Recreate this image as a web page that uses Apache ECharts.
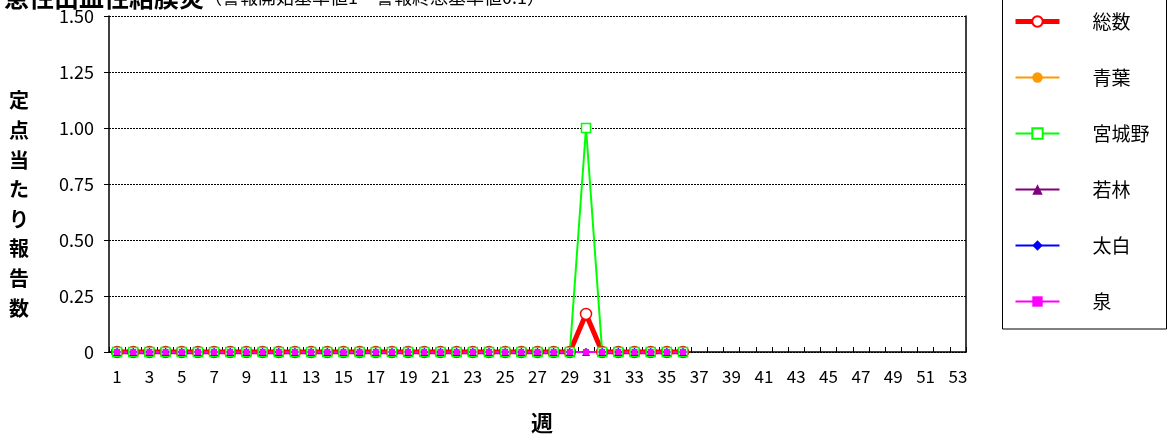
<!DOCTYPE html>
<html>
<head>
<meta charset="utf-8">
<script src="https://cdn.jsdelivr.net/npm/echarts@6/dist/echarts.min.js"></script>
<style>
  html, body { margin: 0; padding: 0; background: #fff; }
  #chart { width: 1168px; height: 439px; }
</style>
</head>
<body>
<div id="chart"></div>
<script>
// 週 1..53
const weeks = [];
for (let w = 1; w <= 53; w++) weeks.push(String(w));

// 定点当たり報告数 (第1週〜第36週)
const sosu     = [0,0,0,0,0,0,0,0,0,0,0,0,0,0,0,0,0,0,0,0,0,0,0,0,0,0,0,0,0,0.17,0,0,0,0,0,0];
const aoba     = [0,0,0,0,0,0,0,0,0,0,0,0,0,0,0,0,0,0,0,0,0,0,0,0,0,0,0,0,0,0,0,0,0,0,0,0];
const miyagino = [0,0,0,0,0,0,0,0,0,0,0,0,0,0,0,0,0,0,0,0,0,0,0,0,0,0,0,0,0,1.0,0,0,0,0,0,0];
const wakabayashi = [0,0,0,0,0,0,0,0,0,0,0,0,0,0,0,0,0,0,0,0,0,0,0,0,0,0,0,0,0,0,0,0,0,0,0,0];
const taihaku  = [0,0,0,0,0,0,0,0,0,0,0,0,0,0,0,0,0,0,0,0,0,0,0,0,0,0,0,0,0,0,0,0,0,0,0,0];
const izumi    = [0,0,0,0,0,0,0,0,0,0,0,0,0,0,0,0,0,0,0,0,0,0,0,0,0,0,0,0,0,0,0,0,0,0,0,0];

const font = '"Noto Sans CJK JP", sans-serif';

const chart = echarts.init(document.getElementById('chart'));

const option = {
  animation: false,
  title: {
    left: 4,
    top: -15,
    padding: 0,
    text: '{b|急性出血性結膜炎}{n|（警報開始基準値1　警報終息基準値0.1）}',
    textStyle: {
      fontWeight: 'normal',
      rich: {
        b: { fontFamily: font, fontSize: 25, fontWeight: 'bold', color: '#000' },
        n: { fontFamily: font, fontSize: 18, fontWeight: 'normal', color: '#000' }
      }
    }
  },
  legend: {
    orient: 'vertical',
    left: 1013,
    top: 12,
    padding: 0,
    itemWidth: 44,
    itemHeight: 13,
    itemGap: 37,
    textStyle: { fontFamily: font, fontSize: 19, color: '#000', padding: [0, 0, 0, 28] },
    data: [
      { name: '総数', lineStyle: { width: 5 } },
      { name: '青葉', lineStyle: { width: 2 } },
      { name: '宮城野', lineStyle: { width: 2 } },
      { name: '若林', lineStyle: { width: 2 } },
      { name: '太白', lineStyle: { width: 2 } },
      { name: '泉', lineStyle: { width: 2 } }
    ]
  },
  graphic: [
    {
      type: 'rect',
      shape: { x: 1002.5, y: -5, width: 164, height: 334 },
      style: { fill: 'none', stroke: '#000', lineWidth: 1 },
      z: 10
    },
    {
      type: 'text',
      left: 9,
      top: 86,
      style: {
        text: '定\n点\n当\nた\nり\n報\n告\n数',
        font: 'bold 20px ' + font,
        lineHeight: 29.6,
        fill: '#000'
      }
    },
    {
      type: 'text',
      left: 531,
      top: 412,
      style: { text: '週', font: 'bold 22px ' + font, fill: '#000' }
    }
  ],
  grid: { left: 109, right: 202, top: 16, bottom: 87 },
  xAxis: {
    type: 'category',
    data: weeks,
    boundaryGap: true,
    axisLine: { show: true, lineStyle: { color: '#000', width: 1.5 } },
    axisTick: { show: true, inside: true, length: 5, interval: 0, lineStyle: { color: '#000', width: 1 } },
    axisLabel: { interval: 1, margin: 16, fontFamily: font, fontSize: 17, color: '#000' }
  },
  yAxis: [
    {
      type: 'value',
      min: 0,
      max: 1.5,
      interval: 0.25,
      axisLine: { show: true, lineStyle: { color: '#000', width: 1.5 } },
      axisTick: { show: true, length: 5, lineStyle: { color: '#000' } },
      axisLabel: {
        margin: 15,
        fontFamily: font,
        fontSize: 18,
        color: '#000',
        formatter: v => (v === 0 ? '0' : v.toFixed(2))
      },
      splitLine: { show: true, lineStyle: { color: '#000', type: [2, 1], width: 1 } }
    },
    {
      type: 'value',
      position: 'right',
      min: 0,
      max: 1.5,
      interval: 0.25,
      axisLine: { show: true, lineStyle: { color: '#000', width: 1.5 } },
      axisTick: { show: false },
      axisLabel: { show: false },
      splitLine: { show: false }
    }
  ],
  series: [
    {
      name: '総数', type: 'line', data: sosu,
      symbol: 'circle', symbolSize: 11, showAllSymbol: true,
      lineStyle: { color: '#FF0000', width: 5 },
      itemStyle: { color: '#fff', borderColor: '#FF0000', borderWidth: 1.5 }
    },
    {
      name: '青葉', type: 'line', data: aoba,
      symbol: 'circle', symbolSize: 7, showAllSymbol: true,
      lineStyle: { color: '#FF9900', width: 2 },
      itemStyle: { color: '#FF9900' }
    },
    {
      name: '宮城野', type: 'line', data: miyagino,
      symbol: 'rect', symbolSize: 9, showAllSymbol: true,
      lineStyle: { color: '#00FF00', width: 2 },
      itemStyle: { color: '#fff', borderColor: '#00FF00', borderWidth: 1.5 }
    },
    {
      name: '若林', type: 'line', data: wakabayashi,
      symbol: 'triangle', symbolSize: 8, showAllSymbol: true,
      lineStyle: { color: '#800080', width: 2 },
      itemStyle: { color: '#800080' }
    },
    {
      name: '太白', type: 'line', data: taihaku,
      symbol: 'diamond', symbolSize: 8, showAllSymbol: true,
      lineStyle: { color: '#0000FF', width: 2 },
      itemStyle: { color: '#0000FF' }
    },
    {
      name: '泉', type: 'line', data: izumi,
      symbol: 'rect', symbolSize: 6, showAllSymbol: true,
      lineStyle: { color: '#FF00FF', width: 2 },
      itemStyle: { color: '#FF00FF' }
    }
  ]
};

chart.setOption(option);
</script>
</body>
</html>
